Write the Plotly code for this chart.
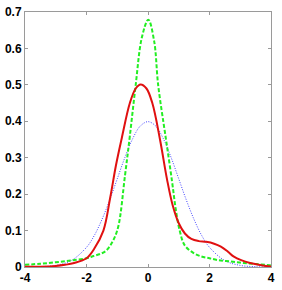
import plotly.graph_objects as go

# Red solid curve
red_x = [-4.0, -3.5, -3.0, -2.7, -2.4, -2.0, -1.75, -1.45, -1.23, -1.04, -0.85, -0.59, -0.4, -0.24, -0.05, 0.14, 0.39, 0.62, 0.8, 1.0, 1.2, 1.41, 1.65, 1.89, 2.15, 2.37, 2.6, 2.78, 3.05, 3.32, 3.6, 3.9, 4.0]
red_y = [0.0005, 0.001, 0.003, 0.006, 0.011, 0.024, 0.05, 0.10, 0.19, 0.28, 0.355, 0.45, 0.49, 0.501, 0.49, 0.45, 0.35, 0.24, 0.17, 0.12, 0.092, 0.077, 0.071, 0.069, 0.064, 0.056, 0.042, 0.029, 0.018, 0.011, 0.006, 0.002, 0.0015]

# Green dashed curve
green_x = [-4.0, -3.5, -3.0, -2.5, -2.0, -1.77, -1.55, -1.36, -1.15, -0.97, -0.75, -0.59, -0.40, -0.2, 0.01, 0.2, 0.33, 0.55, 0.62, 0.78, 0.9, 1.03, 1.19, 1.45, 1.73, 2.0, 2.27, 2.7, 3.1, 3.5, 3.96, 4.0]
green_y = [0.006, 0.009, 0.013, 0.018, 0.024, 0.03, 0.036, 0.045, 0.07, 0.11, 0.25, 0.36, 0.50, 0.63, 0.679, 0.62, 0.50, 0.37, 0.33, 0.236, 0.16, 0.10, 0.06, 0.04, 0.029, 0.024, 0.019, 0.015, 0.011, 0.008, 0.005, 0.005]

# Blue dotted curve
blue_x = [-4.0, -3.5, -3.0, -2.5, -2.0, -1.75, -1.5, -1.25, -1.0, -0.75, -0.5, -0.25, 0.0, 0.25, 0.5, 0.75, 1.0, 1.25, 1.5, 1.75, 2.0, 2.5, 3.0, 3.5, 4.0]
blue_y = [0.0001, 0.0009, 0.0044, 0.0175, 0.054, 0.086, 0.13, 0.183, 0.242, 0.301, 0.352, 0.387, 0.399, 0.387, 0.352, 0.301, 0.242, 0.183, 0.13, 0.086, 0.054, 0.0175, 0.0044, 0.0009, 0.0001]

x_ticks = [-4, -2, 0, 2, 4]
y_ticks = [0, 0.1, 0.2, 0.3, 0.4, 0.5, 0.6, 0.7]
y_tick_text = ["0", "0.1", "0.2", "0.3", "0.4", "0.5", "0.6", "0.7"]

fig = go.Figure()
fig.add_trace(go.Scatter(x=blue_x, y=blue_y, mode="lines",
                         line=dict(color="#4040ff", width=1, dash="1px,1.5px", shape="spline")))
fig.add_trace(go.Scatter(x=green_x, y=green_y, mode="lines",
                         line=dict(color="#22ee22", width=2, dash="4px,2px", shape="spline")))
fig.add_trace(go.Scatter(x=red_x, y=red_y, mode="lines",
                         line=dict(color="#e01010", width=2, shape="spline")))

axis_common = dict(showgrid=False, zeroline=False, showline=True, linecolor="#9a9a9a",
                   linewidth=1, mirror="ticks", ticks="inside", ticklen=3,
                   tickcolor="#9a9a9a", ticklabeloverflow="allow",
                   tickfont=dict(family="Liberation Sans", size=12, color="black", weight=700))

fig.update_layout(
    width=282, height=290,
    margin=dict(l=20, r=11, t=5, b=21),
    paper_bgcolor="white", plot_bgcolor="white",
    showlegend=False,
    xaxis=dict(range=[-4, 4], tickvals=x_ticks,
               ticktext=["%d" % v for v in x_ticks], **axis_common),
    yaxis=dict(range=[0, 0.70001], tickvals=y_ticks,
               ticktext=y_tick_text, **axis_common),
)

fig.write_html("out.html")
